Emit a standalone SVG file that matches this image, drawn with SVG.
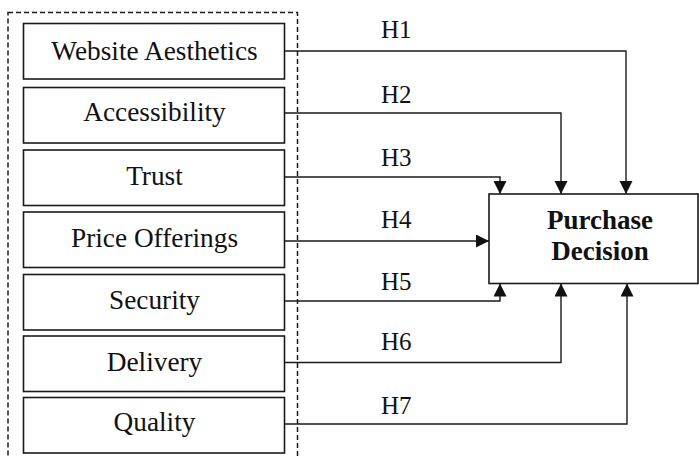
<svg xmlns="http://www.w3.org/2000/svg" width="699" height="456" viewBox="0 0 699 456">
<style>
.box{fill:#fff;stroke:#1a1a1a;stroke-width:1.6}
.t{font-family:"Liberation Serif","Times New Roman",serif;font-size:27.3px;fill:#111;text-anchor:middle}
.h{font-family:"Liberation Serif","Times New Roman",serif;font-size:25px;fill:#111}
.b{font-family:"Liberation Serif","Times New Roman",serif;font-size:27px;font-weight:bold;fill:#111;text-anchor:middle}
.c{fill:none;stroke:#1a1a1a;stroke-width:1.4}
</style>
<defs>
<marker id="arr" markerUnits="userSpaceOnUse" markerWidth="14" markerHeight="14" refX="13" refY="6.5" orient="auto">
<path d="M0,0 L13,6.5 L0,13 Z" fill="#111"/>
</marker>
</defs>
<rect width="699" height="456" fill="#fff"/>
<rect id="group-frame" x="8" y="12.5" width="289.5" height="460" fill="none" stroke="#1a1a1a" stroke-width="1.5" stroke-dasharray="5,3"/>
<g id="n1"><rect class="box" x="23.5" y="23.5" width="261" height="55.5"/><text class="t" x="154.5" y="59.5">Website Aesthetics</text></g>
<g id="n2"><rect class="box" x="23.5" y="87.5" width="261" height="55.5"/><text class="t" x="154.5" y="121">Accessibility</text></g>
<g id="n3"><rect class="box" x="23.5" y="150" width="261" height="55.5"/><text class="t" x="154.5" y="184.5">Trust</text></g>
<g id="n4"><rect class="box" x="23.5" y="212" width="261" height="55.5"/><text class="t" x="154.5" y="247">Price Offerings</text></g>
<g id="n5"><rect class="box" x="23.5" y="274.5" width="261" height="55.5"/><text class="t" x="154.5" y="309">Security</text></g>
<g id="n6"><rect class="box" x="23.5" y="336" width="261" height="55.5"/><text class="t" x="154.5" y="371">Delivery</text></g>
<g id="n7"><rect class="box" x="23.5" y="397.5" width="261" height="55.5"/><text class="t" x="154.5" y="431">Quality</text></g>
<g id="pd"><rect class="box" x="489" y="194" width="209" height="89.5"/><text class="b" x="600" y="229">Purchase</text><text class="b" x="600" y="260">Decision</text></g>
<g id="connectors">
<path class="c" d="M284.5,51 H626 V194" marker-end="url(#arr)"/>
<path class="c" d="M284.5,113 H561 V194" marker-end="url(#arr)"/>
<path class="c" d="M284.5,177 H500 V194" marker-end="url(#arr)"/>
<path class="c" d="M284.5,241 H489" marker-end="url(#arr)"/>
<path class="c" d="M284.5,301 H500 V283.5" marker-end="url(#arr)"/>
<path class="c" d="M284.5,362.5 H561 V283.5" marker-end="url(#arr)"/>
<path class="c" d="M284.5,424 H627 V283.5" marker-end="url(#arr)"/>
</g>
<g id="labels">
<text class="h" x="381" y="37.5">H1</text>
<text class="h" x="381" y="103">H2</text>
<text class="h" x="381" y="166">H3</text>
<text class="h" x="381" y="227.5">H4</text>
<text class="h" x="381" y="289.5">H5</text>
<text class="h" x="381" y="350">H6</text>
<text class="h" x="381" y="413.5">H7</text>
</g>
</svg>
